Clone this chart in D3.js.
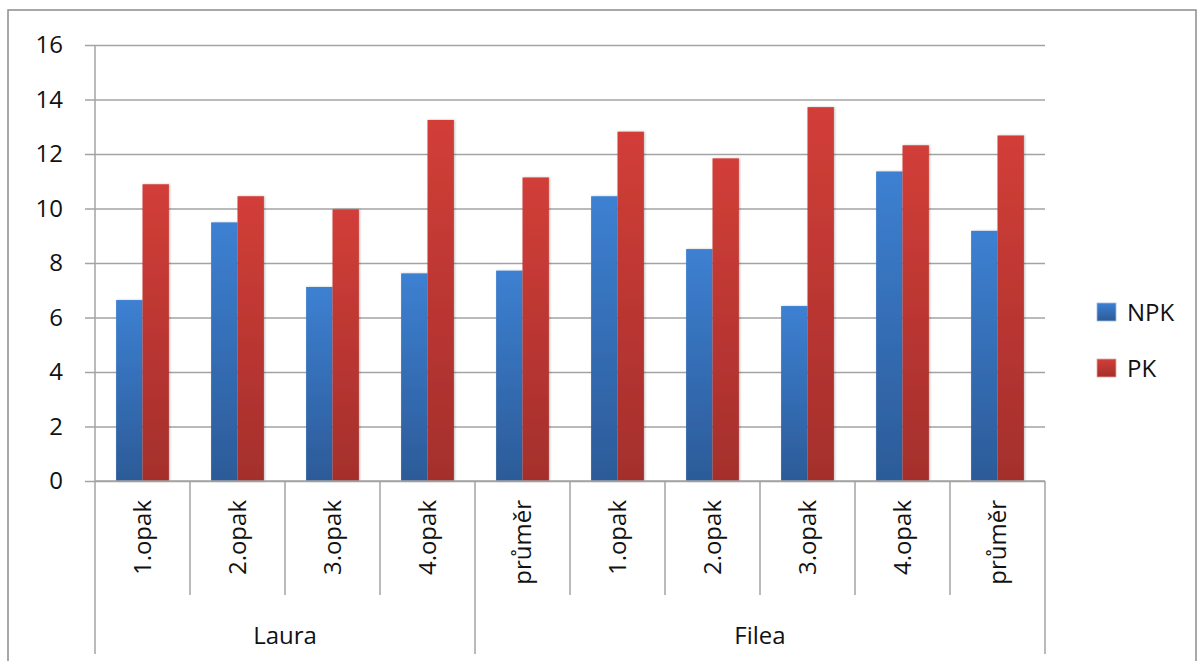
<!DOCTYPE html>
<html>
<head>
<meta charset="utf-8">
<script src="https://cdn.jsdelivr.net/npm/d3@7"></script>
<style>
  body { margin: 0; background: #fff; }
  text { font-family: "Open Sans", "DejaVu Sans", sans-serif; fill: #111; }
</style>
</head>
<body>
<script>
const categories = ["1.opak", "2.opak", "3.opak", "4.opak", "průměr", "1.opak", "2.opak", "3.opak", "4.opak", "průměr"];
const groups = ["Laura", "Filea"];
const groupSizes = [4, 6];
const seriesNames = ["NPK", "PK"];
const npk = [6.64, 9.49, 7.12, 7.62, 7.72, 10.45, 8.51, 6.42, 11.36, 9.18];
const pk = [10.89, 10.45, 9.97, 13.25, 11.14, 12.82, 11.84, 13.72, 12.32, 12.68];
const yTicks = [0, 2, 4, 6, 8, 10, 12, 14, 16];

const W = 1204, H = 661;
const plotLeft = 95, plotRight = 1045, plotTop = 45, plotBottom = 481;

const rows = categories.map((c, i) => ({ key: i, cat: c, NPK: npk[i], PK: pk[i] }));

const svg = d3.select("body").append("svg")
  .attr("width", W)
  .attr("height", H);

// gradients like the office style bars
const defs = svg.append("defs");
const grads = { NPK: ["#3d80d2", "#2c5b98"], PK: ["#d23e38", "#a42f2c"] };
Object.entries(grads).forEach(([k, c]) => {
  const lg = defs.append("linearGradient")
    .attr("id", "g" + k)
    .attr("x1", 0).attr("y1", 0).attr("x2", 0).attr("y2", 1);
  lg.append("stop").attr("offset", "0%").attr("stop-color", c[0]);
  lg.append("stop").attr("offset", "100%").attr("stop-color", c[1]);
});
const shadow = defs.append("filter").attr("id", "sh")
  .attr("x", "-20%").attr("y", "-5%").attr("width", "140%").attr("height", "110%");
shadow.append("feDropShadow").attr("dx", 1).attr("dy", 0).attr("stdDeviation", 1.2)
  .attr("flood-color", "#000").attr("flood-opacity", 0.25);

// outer border
svg.append("rect")
  .attr("x", 8).attr("y", 10)
  .attr("width", 1188).attr("height", 660)
  .attr("fill", "none")
  .attr("stroke", "#8c8c8c")
  .attr("stroke-width", 1.5);

const x0 = d3.scaleBand()
  .domain(rows.map(d => d.key))
  .range([plotLeft, plotRight]);

const x1 = d3.scaleBand()
  .domain(seriesNames)
  .range([0, x0.bandwidth()])
  .paddingOuter(0.8);

const y = d3.scaleLinear()
  .domain([0, 16])
  .range([plotBottom, plotTop]);

// gridlines + y labels
const yAxis = svg.append("g")
  .attr("transform", "translate(" + plotLeft + ",0)")
  .call(d3.axisLeft(y).tickValues(yTicks).tickSize(10));
yAxis.select(".domain").remove();
yAxis.selectAll(".tick line")
  .attr("x2", plotRight - plotLeft)
  .attr("x1", -10)
  .attr("stroke", "#a3a3a3")
  .attr("stroke-width", 1.5);
yAxis.selectAll(".tick text")
  .style("font-size", "24px")
  .attr("fill", "#111")
  .attr("x", -32);

// y axis line
svg.append("line")
  .attr("x1", plotLeft).attr("x2", plotLeft)
  .attr("y1", plotTop).attr("y2", plotBottom)
  .attr("stroke", "#a3a3a3").attr("stroke-width", 1.5);

// bars
const catG = svg.selectAll(".cat")
  .data(rows)
  .enter().append("g")
  .attr("class", "cat")
  .attr("transform", d => "translate(" + x0(d.key) + ",0)");

catG.selectAll("rect")
  .data(d => seriesNames.map(s => ({ s: s, v: d[s] })))
  .enter().append("rect")
  .attr("x", d => x1(d.s))
  .attr("width", x1.bandwidth())
  .attr("y", d => y(d.v))
  .attr("height", d => y(0) - y(d.v))
  .attr("fill", d => "url(#g" + d.s + ")")
  .attr("filter", "url(#sh)");

// category separators and labels
const sepY1 = 595, grpY1 = 654;
const groupStarts = [];
let acc = 0;
groupSizes.forEach(n => { groupStarts.push(acc); acc += n; });

rows.forEach((d, i) => {
  const xl = x0(d.key);
  const isGroupStart = groupStarts.includes(i);
  svg.append("line")
    .attr("x1", xl).attr("x2", xl)
    .attr("y1", plotBottom).attr("y2", isGroupStart ? grpY1 : sepY1)
    .attr("stroke", "#a3a3a3").attr("stroke-width", 1.5);
  const cx = xl + x0.bandwidth() / 2;
  svg.append("text")
    .attr("transform", "translate(" + (cx + 8) + "," + (plotBottom + 19) + ") rotate(-90)")
    .attr("text-anchor", "end")
    .style("font-size", "24px")
    .text(d.cat);
});
svg.append("line")
  .attr("x1", plotRight).attr("x2", plotRight)
  .attr("y1", plotBottom).attr("y2", grpY1)
  .attr("stroke", "#a3a3a3").attr("stroke-width", 1.5);
svg.append("line")
  .attr("x1", plotLeft).attr("x2", plotRight)
  .attr("y1", plotBottom).attr("y2", plotBottom)
  .attr("stroke", "#a3a3a3").attr("stroke-width", 1.5);

groups.forEach((g, gi) => {
  const a = x0(groupStarts[gi]);
  const b = x0(groupStarts[gi] + groupSizes[gi] - 1) + x0.bandwidth();
  svg.append("text")
    .attr("x", (a + b) / 2)
    .attr("y", 644)
    .attr("text-anchor", "middle")
    .style("font-size", "24px")
    .text(g);
});

// legend
const legend = svg.selectAll(".legend")
  .data(seriesNames)
  .enter().append("g")
  .attr("class", "legend")
  .attr("transform", (d, i) => "translate(1097," + (303 + i * 56) + ")");
legend.append("rect")
  .attr("width", 19).attr("height", 18)
  .attr("fill", d => "url(#g" + d + ")")
  .attr("stroke", d => d === "NPK" ? "#9fbbe0" : "#e6a5a3")
  .attr("stroke-width", 0.8);
legend.append("text")
  .attr("x", 30)
  .attr("y", 18)
  .style("font-size", "24px")
  .text(d => d);
</script>
</body>
</html>
